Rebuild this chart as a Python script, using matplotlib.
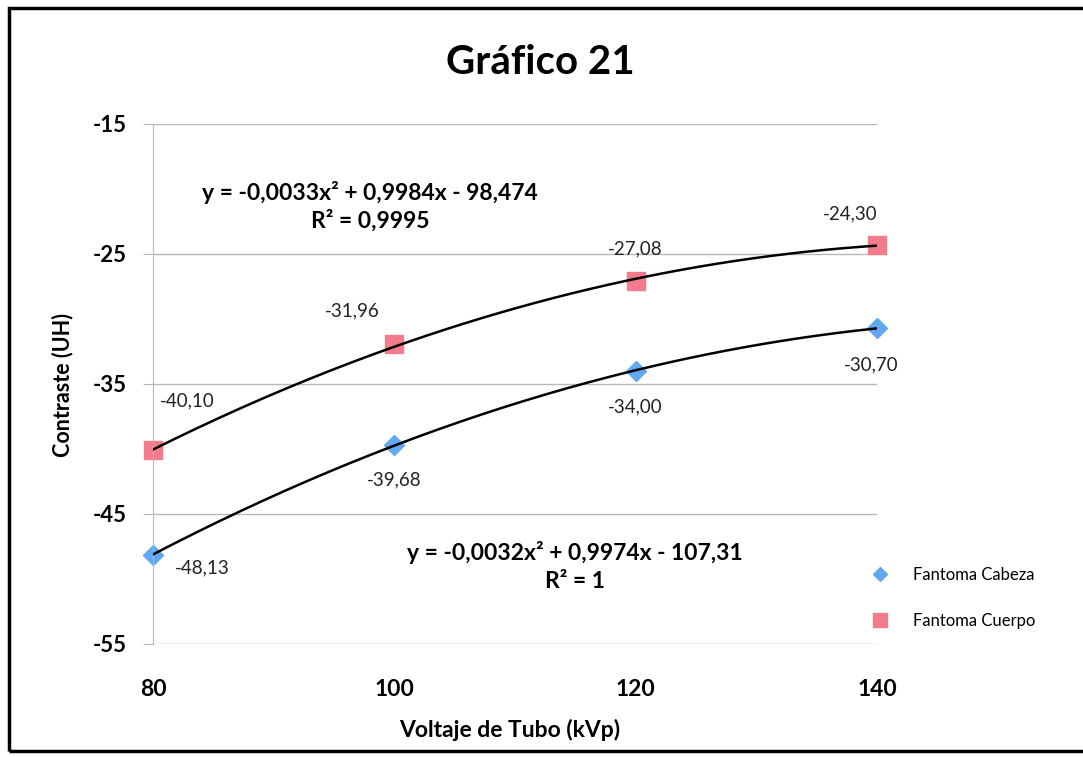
import matplotlib.pyplot as plt
import numpy as np
from matplotlib.patches import Rectangle

# data
kvp = [80, 100, 120, 140]
cabeza = [-48.13, -39.68, -34.00, -30.70]
cuerpo = [-40.10, -31.96, -27.08, -24.30]
cabeza_labels = ['-48,13', '-39,68', '-34,00', '-30,70']
cuerpo_labels = ['-40,10', '-31,96', '-27,08', '-24,30']
yticks = [-15, -25, -35, -45, -55]
xticks = [80, 100, 120, 140]

plt.rcParams['font.family'] = ['Lato', 'DejaVu Sans']
plt.rcParams['axes.unicode_minus'] = False

fig = plt.figure(figsize=(10.83, 7.57), dpi=100)
W, H = 1083, 757
ax = fig.add_axes([153 / W, 1 - 644 / H, (877 - 153) / W, (644 - 124) / H])

# polynomial trendlines (order 2), as in the spreadsheet
xs = np.linspace(80, 140, 200)
for ys in (cabeza, cuerpo):
    c = np.polyfit(kvp, ys, 2)
    ax.plot(xs, np.polyval(c, xs), color='black', lw=1.8, zorder=3)

ax.plot(kvp, cabeza, ls='none', marker='D', ms=10, color='#62a8f0',
        mec='#62a8f0', label='Fantoma Cabeza', zorder=2, clip_on=False)
ax.plot(kvp, cuerpo, ls='none', marker='s', ms=13, color='#f27b8c',
        mec='#f27b8c', label='Fantoma Cuerpo', zorder=2, clip_on=False)

# data labels (offsets in pixels)
cab_off = [(49, -13), (0, -35), (0, -36), (-6, -37)]
cue_off = [(34, 49), (-42, 34), (0, 32), (-27, 31)]
for x, y, t, o in zip(kvp, cabeza, cabeza_labels, cab_off):
    ax.annotate(t, (x, y), xytext=o, textcoords='offset pixels',
                ha='center', va='center', fontsize=13.5, color='#222222')
for x, y, t, o in zip(kvp, cuerpo, cuerpo_labels, cue_off):
    ax.annotate(t, (x, y), xytext=o, textcoords='offset pixels',
                ha='center', va='center', fontsize=13.5, color='#222222')

ax.set_xlim(80, 140)
ax.set_ylim(-55, -15)
ax.set_yticks(yticks)
ax.set_xticks(xticks)
ax.grid(axis='y', color='#b8b8b8', lw=1)
ax.set_axisbelow(True)
for s in ['top', 'right', 'bottom']:
    ax.spines[s].set_visible(False)
ax.spines['left'].set_color('#b8b8b8')
ax.tick_params(axis='y', length=7, color='#b8b8b8', pad=12, labelsize=16)
ax.tick_params(axis='x', length=0, pad=25, labelsize=16.5)
for lab in ax.get_xticklabels() + ax.get_yticklabels():
    lab.set_fontweight('bold')

# trendline equations
eq_kw = dict(ha='center', va='center', fontsize=16.5, fontweight='bold')
fig.text(370 / W, 1 - 192 / H, 'y = -0,0033x² + 0,9984x - 98,474', **eq_kw)
fig.text(370 / W, 1 - 221 / H, 'R² = 0,9995', **eq_kw)
fig.text(575 / W, 1 - 552 / H, 'y = -0,0032x² + 0,9974x - 107,31', **eq_kw)
fig.text(575 / W, 1 - 581 / H, 'R² = 1', **eq_kw)

fig.text(540 / W, 1 - 62 / H, 'Gráfico 21', ha='center', va='center', fontsize=29, fontweight='bold')
fig.text(63 / W, 1 - 385 / H, 'Contraste (UH)', ha='center', va='center', rotation=90,
         fontsize=15.5, fontweight='bold')
fig.text(510 / W, 1 - 730 / H, 'Voltaje de Tubo (kVp)', ha='center', va='center',
         fontsize=16.5, fontweight='bold')

leg = ax.legend(loc='center left', bbox_to_anchor=(848 / W, 1 - 598 / H), bbox_transform=fig.transFigure,
                frameon=False, fontsize=12, handletextpad=1.0, labelspacing=1.8, markerscale=0.75)

fig.patches.append(Rectangle((9 / W, 1 - 751 / H), 1.1, (751 - 8) / H, transform=fig.transFigure,
                             fill=False, ec='black', lw=2.5, figure=fig))

fig.savefig('out.png', dpi=100)
